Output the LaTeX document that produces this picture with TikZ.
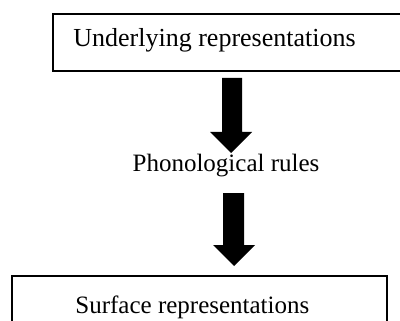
\documentclass[tikz,border=0pt]{standalone}
\usepackage{fontspec}
\setmainfont{Liberation Serif}
\tikzset{
  stagebox/.style={draw=black, line width=1pt},
  stagetext/.style={inner sep=0pt, font=\fontsize{12.5}{15}\selectfont},
  blockarrow/.style={fill=black, draw=none}
}
\begin{document}
\begin{tikzpicture}[x=0.5pt, y=-0.5pt]
  \useasboundingbox (0,0) rectangle (400,320);
  \clip (0,0) rectangle (400,320);
  % upper stage
  \draw[stagebox] (53,14) rectangle (410,71);
  \node[stagetext, font=\fontsize{13}{15}\selectfont, anchor=base west] (ur) at (73,47) {Underlying representations};
  % first block arrow
  \fill[blockarrow] (222,78) -- (242,78) -- (242,132) -- (252,132) -- (231,153)
    -- (210,132) -- (222,132) -- cycle;
  % rule label
  \node[stagetext, anchor=base] (pr) at (226,171) {Phonological rules};
  % second block arrow
  \fill[blockarrow] (223,193) -- (244,193) -- (244,245) -- (255,245) -- (234,266)
    -- (213,245) -- (223,245) -- cycle;
  % lower stage
  \draw[stagebox] (12,276) rectangle (387,340);
  \node[stagetext, anchor=base west] (sr) at (75,313) {Surface representations};
\end{tikzpicture}
\end{document}
